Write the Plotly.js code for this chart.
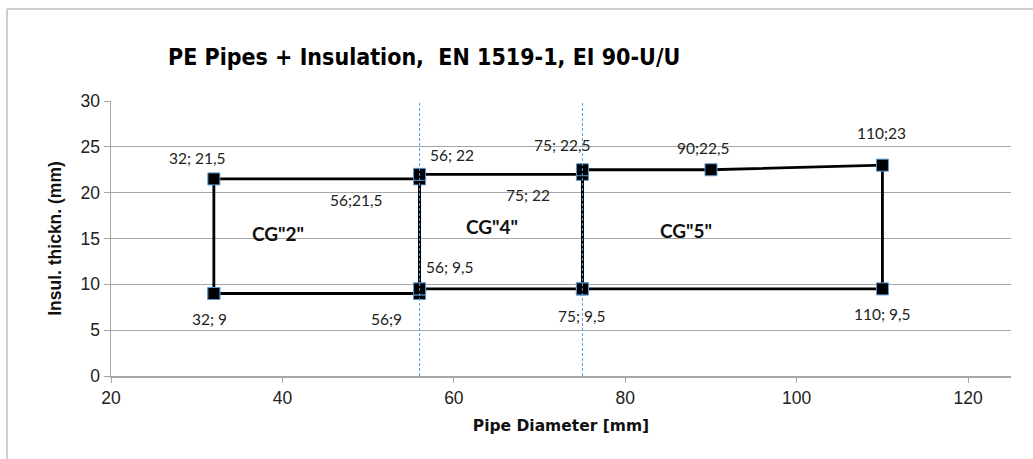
<!DOCTYPE html>
<html><head><meta charset="utf-8">
<script src="https://cdn.plot.ly/plotly-3.0.1.min.js"></script>
<style>html,body{margin:0;padding:0;background:#fff}#c{width:1033px;height:459px}</style>
</head><body><div id="c"></div>
<script>
// Data
const cg2X = [32, 32, 56, 56, 32];
const cg2Y = [9, 21.5, 21.5, 9, 9];
const cg4X = [56, 56, 75, 75, 56];
const cg4Y = [9.5, 22, 22, 9.5, 9.5];
const cg5X = [75, 75, 90, 110, 110, 75];
const cg5Y = [9.5, 22.5, 22.5, 23, 9.5, 9.5];
const dividerX = [56, 75];
const xTicks = [20, 40, 60, 80, 100, 120];
const yTicks = [0, 5, 10, 15, 20, 25, 30];

const pointLabelX = [32, 56, 75, 56, 75, 56, 90, 110, 32, 56, 75, 110];
const pointLabelY = [21.5, 22, 22.5, 21.5, 22, 9.5, 22.5, 23, 9, 9, 9.5, 9.5];
const pointLabelText = ["32; 21,5", "56; 22", "75; 22,5", "56;21,5", "75; 22", "56; 9,5", "90;22,5", "110;23", "32; 9", "56;9", "75; 9,5", "110; 9,5"];
const groupNames = ['CG"2"', 'CG"4"', 'CG"5"'];
const groupX = [39.5, 64.4, 87.1];
const groupY = [15.6, 16.3, 15.9];

// Styles (pixel offsets of labels from their points)
const shiftX = [-16, 32, -20, -63, -54, 30, -8, -1, -4, -33, 0, 0];
const shiftY = [21, 19, 25, -21, -21, 22, 22, 32, -25, -25, -27, -25];

const lineStyle = {color: '#000', width: 2.8};
const markerStyle = {symbol: 'square', size: 12, color: '#000', line: {color: '#5b9bd5', width: 1}};

const traces = [
  {x: cg2X, y: cg2Y, mode: 'lines+markers', line: lineStyle, marker: markerStyle, hoverinfo: 'x+y'},
  {x: cg4X, y: cg4Y, mode: 'lines+markers', line: lineStyle, marker: markerStyle, hoverinfo: 'x+y'},
  {x: cg5X, y: cg5Y, mode: 'lines+markers', line: lineStyle, marker: markerStyle, hoverinfo: 'x+y'}
];
dividerX.forEach(d => traces.push({
  x: [d, d], y: [yTicks[0], yTicks[yTicks.length - 1]], mode: 'lines',
  line: {color: '#5b9bd5', width: 1, dash: '3px,2px'}, hoverinfo: 'skip'
}));

const annotations = [];
pointLabelText.forEach((t, i) => annotations.push({
  x: pointLabelX[i], y: pointLabelY[i], xref: 'x', yref: 'y', text: t, showarrow: false,
  xshift: shiftX[i], yshift: shiftY[i],
  font: {family: 'Lato, Carlito, "Open Sans", sans-serif', size: 15.5, color: '#222'}
}));
groupNames.forEach((t, i) => annotations.push({
  x: groupX[i], y: groupY[i], xref: 'x', yref: 'y', text: '<b>' + t + '</b>', showarrow: false,
  font: {family: 'Lato, "Open Sans", sans-serif', size: 19, color: '#111'}
}));

const layout = {
  width: 1033, height: 459,
  margin: {l: 111, r: 22, t: 101, b: 83},
  paper_bgcolor: '#fff', plot_bgcolor: '#fff',
  showlegend: false,
  title: {
    text: '<b>PE Pipes + Insulation,  EN 1519-1, EI 90-U/U</b>',
    xref: 'container', yref: 'container', x: 168 / 1033, xanchor: 'left', y: 1 - 57 / 459, yanchor: 'middle',
    font: {family: '"DejaVu Sans Condensed", "Liberation Sans Narrow", Arial, sans-serif', size: 23, color: '#000'}
  },
  xaxis: {
    range: [20, 125], tickvals: xTicks, ticktext: xTicks.map(String),
    showgrid: false, zeroline: false,
    showline: true, linecolor: '#a6a6a6', linewidth: 1.5,
    ticks: 'outside', ticklen: 5, tickcolor: '#a6a6a6',
    tickfont: {family: '"Liberation Sans", Arial, sans-serif', size: 17.5, color: '#222'},
    title: {text: '<b>Pipe Diameter [mm]</b>', standoff: 13,
      font: {family: '"DejaVu Sans", sans-serif', size: 15.5, color: '#111'}}
  },
  yaxis: {
    range: [0, 30], tickvals: yTicks, ticktext: yTicks.map(String),
    showgrid: true, gridcolor: '#a6a6a6', gridwidth: 1, zeroline: false,
    showline: true, linecolor: '#a6a6a6', linewidth: 1.5,
    ticks: 'outside', ticklen: 6, tickcolor: '#a6a6a6',
    tickfont: {family: '"Liberation Sans", Arial, sans-serif', size: 17.5, color: '#222'},
    title: {text: '<b>Insul. thickn. (mm)</b>', standoff: 14,
      font: {family: '"Liberation Sans", Arial, sans-serif', size: 17.5, color: '#111'}}
  },
  annotations: annotations,
  shapes: [
    {type: 'line', xref: 'paper', yref: 'paper', x0: -104 / 900, x1: 1.03, y0: (376 - 9) / 275, y1: (376 - 9) / 275,
      line: {color: '#bfbfbf', width: 1.5}},
    {type: 'line', xref: 'paper', yref: 'paper', x0: -104 / 900, x1: -104 / 900, y0: (376 - 9) / 275, y1: -0.31,
      line: {color: '#bfbfbf', width: 1.5}}
  ]
};

Plotly.newPlot('c', traces, layout, {displayModeBar: false, staticPlot: true});
</script></body></html>
